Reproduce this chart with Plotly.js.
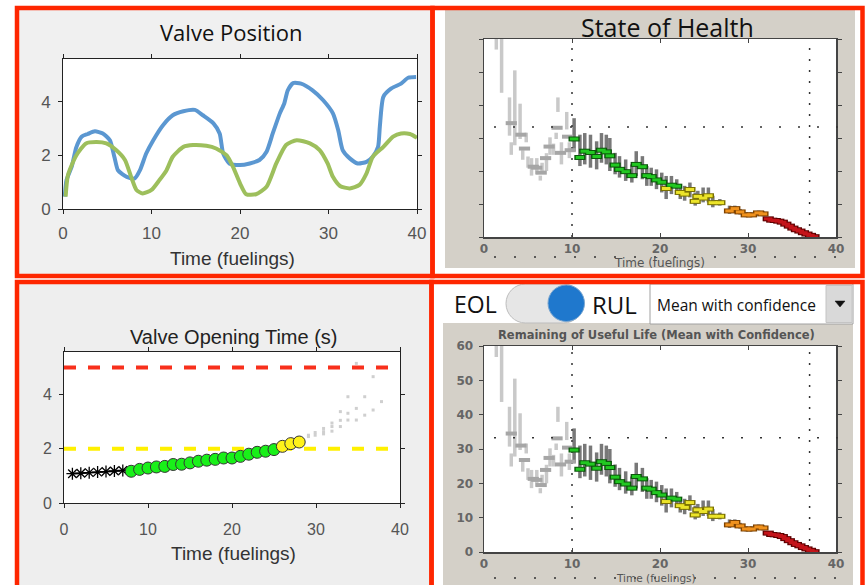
<!DOCTYPE html>
<html><head><meta charset="utf-8">
<script src="https://cdn.plot.ly/plotly-3.0.1.min.js"></script>
<style>html,body{margin:0;padding:0;background:#fff;}#chart{width:865px;height:585px;}</style>
</head><body><div id="chart"></div>
<script>
// ---------- Valve Position ----------
const vpBlueX = [0.2,0.4,1.0,1.5,2.1,2.8,3.6,4.5,5.3,5.8,6.2,6.7,7.2,8.1,8.7,9.4,10.2,11.3,12.4,13.6,14.9,15.8,17.0,17.7,18.1,18.8,20.0,21.1,22.2,23.0,23.7,24.5,25.0,25.4,26.0,26.9,28.2,29.4,30.5,31.1,31.6,32.4,33.3,34.3,35.0,35.6,35.8,36.2,37.1,38.2,39.0,39.9];
const vpBlueY = [0.46,1.08,1.6,2.3,2.7,2.8,2.9,2.82,2.57,1.95,1.45,1.3,1.2,1.14,1.45,2.07,2.57,3.13,3.5,3.65,3.7,3.5,3.2,2.82,2.07,1.7,1.64,1.7,1.83,2.14,2.82,3.57,3.94,4.43,4.7,4.68,4.43,4.06,3.57,2.94,2.2,1.89,1.7,1.76,1.95,2.32,3.07,4.19,4.5,4.68,4.9,4.93];
const vpGreenX = [0.3,0.56,1.5,2.6,3.8,4.9,6.0,7.0,7.7,8.3,9.0,10.0,10.9,11.7,12.4,13.6,14.7,16.2,17.3,18.5,19.2,20.0,20.7,21.8,23.0,24.1,25.2,26.4,27.9,29.0,29.9,30.5,31.3,32.4,33.5,34.3,35.0,36.2,37.3,38.2,39.2,40.0];
const vpGreenY = [0.46,1.27,2.0,2.45,2.5,2.45,2.2,1.83,1.2,0.71,0.58,0.71,1.08,1.45,1.95,2.32,2.39,2.36,2.26,2.0,1.58,0.96,0.55,0.55,0.83,1.7,2.39,2.57,2.45,2.2,1.7,1.2,0.86,0.77,0.9,1.33,1.95,2.32,2.7,2.82,2.8,2.66];

// ---------- Valve Opening Time ----------
const votStarX = [1,2,3,4,5,6,7];
const votStarY = [1.08,1.1,1.12,1.14,1.16,1.18,1.2];
const votX = [8,9,10,11,12,13,14,15,16,17,18,19,20,21,22,23,24,25,26,27,28];
const votY = [1.17,1.24,1.29,1.33,1.35,1.42,1.43,1.48,1.54,1.58,1.61,1.66,1.66,1.72,1.8,1.87,1.91,1.97,2.09,2.19,2.25];
const votStatus = ['g','g','g','g','g','g','g','g','g','g','g','g','g','g','g','g','g','g','y','y','y'];
const predX = [29.1,29.1,29.9,29.9,30.9,30.9,30.9,31.9,31.9,31.9,32.9,32.9,32.9,33.8,33.8,33.8,34.8,34.8,34.8,35.8,35.8,36.8,36.8,37.8];
const predY = [2.45,2.5,2.5,2.6,2.55,2.63,2.75,2.65,2.82,2.95,2.82,3.05,3.37,3.06,3.31,3.92,3.06,3.49,5.15,3.24,3.92,3.43,4.66,3.74];
const limitX = [0,40];
const failLimit = 5;
const warnLimit = 2;

// ---------- RUL / State of Health ----------
const earlyBarX  = [1.4,2.0,2.9,3.5,4.1,3.1,4.8,4.4,5.0,5.4,6.0,6.4,6.6,7.1,7.5,7.9,8.4,8.2,8.8,9.4,9.7];
const earlyBarLo = [56.8,43.7,30.7,27.8,29.7,24.9,28.7,23.4,21.0,18.6,19.0,17.1,19.5,20.0,24.9,24.9,37.9,29.7,22.0,32.6,23.9];
const earlyBarHi = [62,62,42.3,50.5,40.4,28.7,31.6,26.3,24.4,23.9,23.9,18.6,22.5,25.4,30.2,28.3,42.3,31.6,28.7,37.9,28.7];
const earlyMeanX = [3.1,4.2,4.6,5.6,6.0,6.5,7.0,7.4,8.3,8.7,9.5,9.8];
const earlyMeanY = [34.5,31.0,26.8,21.3,21.0,19.5,23.9,27.4,33.1,25.5,30.4,26.3];

const rulX  = [10.24,10.9,11.45,12.1,12.8,13.35,13.9,14.3,14.9,15.4,16.1,16.8,17.3,18.0,18.5,19.0,19.6,20.2,20.7,21.3,21.9,22.3,22.8,23.4,24.0,24.3,24.9,25.5,26.0,26.8,27.9,28.5,29.1,29.8,30.4,31.2,31.7,32.3,32.7,33.1,33.5,33.9,34.3,34.7,35.1,35.5,35.9,36.3,36.7,37.1,37.5];
const rulMean = [29.7,24.1,26.0,25.6,24.4,26.3,25.8,24.6,21.8,20.5,19.8,18.6,22.0,21.3,18.6,18.3,17.3,16.6,14.7,15.7,15.4,13.5,13.0,14.4,10.8,12.3,11.8,12.5,10.4,10.4,7.9,8.6,7.6,6.7,6.7,7.3,7.0,5.5,5.1,5.0,4.8,4.5,3.9,3.3,2.7,2.2,1.8,1.3,0.9,0.5,0.1];
const rulLo = [26,21.5,22,21,20.5,22.5,22,20,19,18,17,16.5,18.5,17.5,15.5,15.5,14.5,13.5,11.5,13,13,11.5,11,12,9.5,10,10.5,10.5,9,9.5,7,7.5,6.8,6,6,6.5,6.3,5.1,4.8,4.7,4.5,4.2,3.6,3.0,2.4,1.9,1.5,1.0,0.6,0.2,0];
const rulHi = [36,31,31.5,31,29,31.5,31,30,25.5,24.5,23.5,22,26,24.5,21.5,21,20.5,19.5,18.5,18.5,17.5,16,15.5,16.5,13.5,14,15,15,12.5,11.5,9.5,9.5,8.5,7.5,7.5,8,7.8,5.9,5.4,5.3,5.1,4.8,4.2,3.6,3.0,2.5,2.1,1.6,1.2,0.8,0.4];
const rulStatus = ['g','g','g','g','g','g','g','g','g','g','g','g','g','g','g','g','g','g','y','g','g','y','y','y','y','y','y','y','y','y','o','o','o','o','o','o','o','r','r','r','r','r','r','r','r','r','r','r','r','r','r'];
const eolLinesX = [10, 37];
const eolLevel = 33.3;

// ---------- helpers (layout only) ----------
const W = 865, H = 585;
const fx = p => p / W;
const fy = p => 1 - p / H;
const fill = {g:'#22c822', y:'#ece42a', o:'#f0921e', r:'#c4141a'};
const edge = {g:'#0b560b', y:'#7a7000', o:'#7e4200', r:'#5e0000'};
const circFill = {g:'#19f019', y:'#fff21a'};

const traces = [];
traces.push({x:vpBlueX, y:vpBlueY, xaxis:'x', yaxis:'y', mode:'lines', line:{color:'#5b97d1', width:4, shape:'spline', smoothing:0.6}});
traces.push({x:vpGreenX, y:vpGreenY, xaxis:'x', yaxis:'y', mode:'lines', line:{color:'#9dbf5c', width:4, shape:'spline', smoothing:0.6}});

traces.push({x:limitX, y:limitX.map(()=>failLimit), xaxis:'x3', yaxis:'y3', mode:'lines', line:{color:'#f8301c', width:4, dash:'12px,12px'}});
traces.push({x:limitX, y:limitX.map(()=>warnLimit), xaxis:'x3', yaxis:'y3', mode:'lines', line:{color:'#fff000', width:4, dash:'12px,12px'}});
traces.push({x:predX, y:predY, xaxis:'x3', yaxis:'y3', mode:'markers', marker:{symbol:'square', size:3, color:'#cfcfcf'}});
traces.push({x:votStarX, y:votStarY, xaxis:'x3', yaxis:'y3', mode:'lines+markers', line:{color:'#000', width:1.5}, marker:{symbol:'asterisk-open', size:10, line:{color:'#000', width:1.3}}});
traces.push({x:votX, y:votY, xaxis:'x3', yaxis:'y3', mode:'markers', marker:{symbol:'circle', size:12, color:votStatus.map(s=>circFill[s]), line:{color:'#333', width:1}}});

function rulTraces(xa, ya){
  const t = [];
  t.push({x:earlyBarX, y:earlyBarLo, xaxis:xa, yaxis:ya, mode:'markers', marker:{size:1, opacity:0},
    error_y:{type:'data', symmetric:false, array:earlyBarHi.map((h,i)=>h-earlyBarLo[i]), arrayminus:earlyBarLo.map(()=>0), color:'#c9c9c9', thickness:3.5, width:0}});
  t.push({x:rulX, y:rulLo, xaxis:xa, yaxis:ya, mode:'markers', marker:{size:1, opacity:0},
    error_y:{type:'data', symmetric:false, array:rulHi.map((h,i)=>h-rulLo[i]), arrayminus:rulLo.map(()=>0), color:'#787878', thickness:3.5, width:0}});
  t.push({x:eolLinesX.flatMap(v=>[v,v,null]), y:eolLinesX.flatMap(()=>[0,60,null]), xaxis:xa, yaxis:ya, mode:'lines', line:{color:'#333', width:1.5, dash:'2px,9px'}});
  t.push({x:earlyMeanX, y:earlyMeanY, xaxis:xa, yaxis:ya, mode:'markers', marker:{symbol:'line-ew', size:8, line:{width:4, color:'#a6a6a6'}}});
  t.push({x:rulX, y:rulMean, xaxis:xa, yaxis:ya, mode:'markers', marker:{symbol:'line-ew', size:8, line:{width:5, color:rulStatus.map(s=>edge[s])}}});
  t.push({x:rulX, y:rulMean, xaxis:xa, yaxis:ya, mode:'markers', marker:{symbol:'line-ew', size:6, line:{width:3, color:rulStatus.map(s=>fill[s])}}});
  return t;
}
traces.push(...rulTraces('x2','y2'));
traces.push(...rulTraces('x4','y4'));

function rectP(x0,y0,x1,y1,fc,lc,lw,layer){
  return {type:'rect', xref:'paper', yref:'paper', x0:fx(x0), x1:fx(x1), y0:fy(y1), y1:fy(y0), fillcolor:fc, line:{color:lc||'rgba(0,0,0,0)', width:lw||0}, layer:layer||'below'};
}
function pathP(pts){
  return pts.map(seg=>{const c=seg[0]; const nums=seg.slice(1); let out=c; for(let i=0;i<nums.length;i+=2){out+=(i?' ':'')+fx(nums[i]).toFixed(5)+','+fy(nums[i+1]).toFixed(5);} return out;}).join(' ')+' Z';
}
const k = 0.5523*19.5;
const pill = pathP([
  ['M',525.5,284],['L',563.5,284],['C',563.5+k,284,583,303.5-k,583,303.5],['C',583,303.5+k,563.5+k,323,563.5,323],
  ['L',525.5,323],['C',525.5-k,323,506,303.5+k,506,303.5],['C',506,303.5-k,525.5-k,284,525.5,284]
]);
const shapes = [
  rectP(19,10,430,275,'#f0f0f0'),
  rectP(445,10,855,268,'#d4d0c8'),
  rectP(19,284,429,590,'#eeeeee'),
  rectP(443,323,853,590,'#d4d0c8'),
  rectP(63,59,417,209,'#ffffff'),
  rectP(484,39,836,237,'#ffffff'),
  rectP(64,352,400,503,'#ffffff'),
  rectP(484,346,836,552,'#ffffff'),
  {type:'line', xref:'paper', yref:'y2', x0:fx(494), x1:fx(851), y0:eolLevel, y1:eolLevel, line:{color:'#333', width:1.5, dash:'2px,17px'}, layer:'above'},
  {type:'line', xref:'paper', yref:'y4', x0:fx(494), x1:fx(851), y0:eolLevel, y1:eolLevel, line:{color:'#333', width:1.5, dash:'2px,17px'}, layer:'above'},
  {type:'line', xref:'paper', yref:'paper', x0:fx(494), x1:fx(851), y0:fy(257), y1:fy(257), line:{color:'#333', width:1.5, dash:'2px,18px'}, layer:'above'},
  {type:'line', xref:'paper', yref:'paper', x0:fx(494), x1:fx(851), y0:fy(578), y1:fy(578), line:{color:'#333', width:1.5, dash:'2px,18px'}, layer:'above'},
  {type:'path', xref:'paper', yref:'paper', path:pill, fillcolor:'#e6e6e6', line:{color:'#bdbdbd', width:1}, layer:'above'},
  {type:'circle', xref:'paper', yref:'paper', x0:fx(548), x1:fx(584.5), y0:fy(321.5), y1:fy(285), fillcolor:'#1f78cd', line:{color:'#7aa6d0', width:1}, layer:'above'},
  rectP(650,284,853,324,'#ffffff','#a0a0a0',1,'above'),
  rectP(826,285.5,852,322.5,'#d9d9d9','#c4c4c4',1,'above'),
  {type:'path', xref:'paper', yref:'paper', path:pathP([['M',835,301],['L',845,301],['L',840,307]]), fillcolor:'#111', line:{color:'#111', width:0.5}, layer:'above'},
  rectP(17,8,432.5,276,'rgba(0,0,0,0)','#fe2600',4.5,'above'),
  rectP(432.5,8,862.5,276,'rgba(0,0,0,0)','#fe2600',4.5,'above'),
  rectP(17,282,431.5,592,'rgba(0,0,0,0)','#fe2600',4.5,'above'),
  rectP(431.5,282,862.5,592,'rgba(0,0,0,0)','#fe2600',4.5,'above')
];

function ann(text,x,y,font,extra){ return Object.assign({text, x:fx(x), y:fy(y), xref:'paper', yref:'paper', showarrow:false, xanchor:'center', yanchor:'middle', font}, extra||{}); }
const annotations = [
  ann('Valve Position',232,32,{family:'Open Sans', size:22, color:'#111'}),
  ann('Time (fuelings)',233,258,{family:'Liberation Sans', size:19, color:'#333'}),
  ann('State of Health',667,27,{family:'Open Sans', size:25, color:'#111'}),
  ann('Time (fuelings)',659,263,{family:'DejaVu Sans', size:12, color:'#555'}),
  ann('Valve Opening Time (s)',234,337,{family:'Liberation Sans', size:20, color:'#222'}),
  ann('Time (fuelings)',233.5,553,{family:'Liberation Sans', size:19, color:'#333'}),
  ann('EOL',475,304,{family:'Open Sans', size:23, color:'#111'}),
  ann('RUL',614.5,304,{family:'Open Sans', size:24, color:'#111'}),
  ann('Mean with confidence',655,305,{family:'Open Sans', size:15.5, color:'#111'},{xanchor:'left'}),
  ann('Remaining of Useful Life (Mean with Confidence)',656,335,{family:'DejaVu Sans', size:11.5, weight:'bold', color:'#555'}),
  ann('Time (fuelings)',656,578,{family:'DejaVu Sans', size:10.5, color:'#555'})
];

const leftTick = {family:'Liberation Sans', size:17, color:'#555'};
const rightTick = {family:'DejaVu Sans', size:12, weight:'bold', color:'#666'};
function ax(dom, range, vals, font, anchor, extra){
  return Object.assign({domain:dom, range, tickvals:vals, tickfont:font, anchor, showline:true, mirror:'ticks', linecolor:'#222', linewidth:1, ticks:'outside', ticklen:4, tickcolor:'#222', showgrid:false, zeroline:false, fixedrange:true}, extra||{});
}
const xt = [0,10,20,30,40];
const layout = {
  width:W, height:H, margin:{l:0,r:0,t:0,b:0}, paper_bgcolor:'#ffffff', plot_bgcolor:'#ffffff', showlegend:false,
  xaxis:  ax([fx(63),fx(417)], [0,40], xt, leftTick, 'y', {ticklabelstandoff:5}),
  yaxis:  ax([fy(209),fy(59)], [0,5.6], [0,2,4], leftTick, 'x', {ticklabelstandoff:4}),
  xaxis2: ax([fx(484),fx(836)], [0,40], xt, rightTick, 'y2', {ticks:'inside', linecolor:'#444', tickcolor:'#444', linewidth:1.5}),
  yaxis2: ax([fy(237),fy(39)], [0,60], [0,10,20,30,40,50,60], rightTick, 'x2', {showticklabels:false, linecolor:'#444', tickcolor:'#444', linewidth:1.5}),
  xaxis3: ax([fx(64),fx(400)], [0,40], xt, {family:'Liberation Sans', size:16, color:'#555'}, 'y3', {ticklabelstandoff:8}),
  yaxis3: ax([fy(503),fy(352)], [0,5.57], [0,2,4], {family:'Liberation Sans', size:16, color:'#555'}, 'x3', {ticklabelstandoff:4}),
  xaxis4: ax([fx(484),fx(836)], [0,40], xt, rightTick, 'y4', {ticks:'inside', linecolor:'#444', tickcolor:'#444', linewidth:1.5}),
  yaxis4: ax([fy(552),fy(346)], [0,60], [0,10,20,30,40,50,60], rightTick, 'x4', {linecolor:'#444', tickcolor:'#444', linewidth:1.5, ticklabelstandoff:3}),
  shapes, annotations
};
Plotly.newPlot('chart', traces, layout, {staticPlot:true, displayModeBar:false});
</script></body></html>
